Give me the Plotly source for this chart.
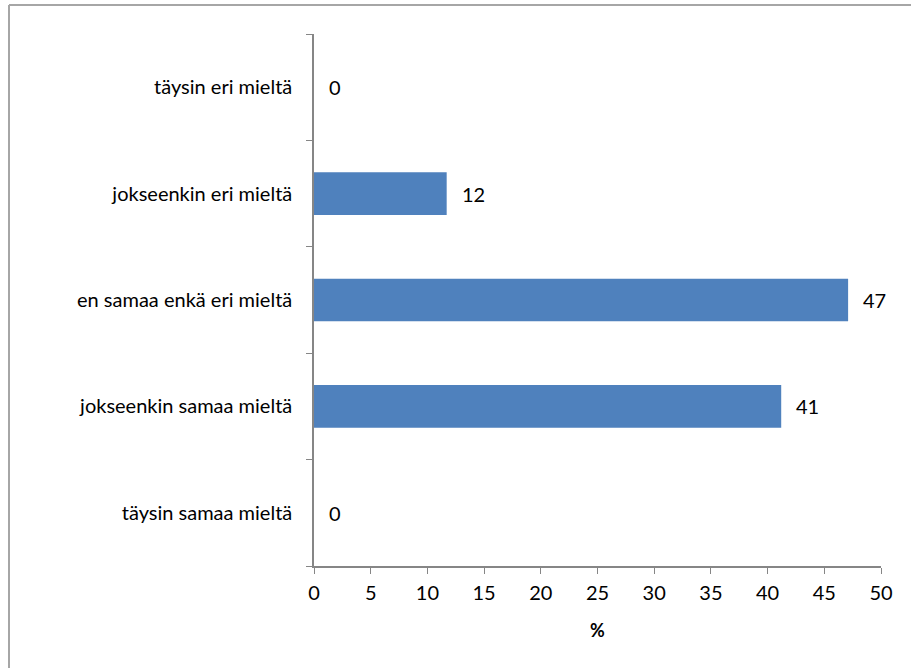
import plotly.graph_objects as go

categories = ["täysin eri mieltä", "jokseenkin eri mieltä", "en samaa enkä eri mieltä",
              "jokseenkin samaa mieltä", "täysin samaa mieltä"]
values = [0, 11.7, 47.1, 41.2, 0]
labels = ["0", "12", "47", "41", "0"]
x_ticks = [0, 5, 10, 15, 20, 25, 30, 35, 40, 45, 50]

W, H = 911, 668
L, R, T, B = 314, 30, 34, 102
pw, ph = W - L - R, H - T - B

font = "Lato, 'Open Sans', sans-serif"
FS = 20
fig = go.Figure(go.Bar(
    y=categories, x=values, orientation="h",
    marker=dict(color="#4F81BD", line=dict(width=0)),
    width=0.4,
))

for c, v, t in zip(categories, values, labels):
    fig.add_annotation(x=v, y=c, text=t, showarrow=False, xanchor="left",
                       xshift=13, font=dict(size=FS, color="#000000", family=font))

def px2paper_x(px):
    return (px - L) / pw

def px2paper_y(py):
    return (H - B - py) / ph

frame_col = "#A6A6A6"
fig.add_shape(type="line", xref="paper", yref="paper",
              x0=px2paper_x(9), x1=px2paper_x(W + 5), y0=px2paper_y(5), y1=px2paper_y(5),
              line=dict(color=frame_col, width=2))
fig.add_shape(type="line", xref="paper", yref="paper",
              x0=px2paper_x(9), x1=px2paper_x(9), y0=px2paper_y(5), y1=px2paper_y(H + 5),
              line=dict(color=frame_col, width=2))

fig.update_layout(
    width=W, height=H,
    margin=dict(l=L, r=R, t=T, b=B, pad=0),
    paper_bgcolor="white", plot_bgcolor="white",
    showlegend=False,
    font=dict(family=font, size=FS, color="#000000"),
    xaxis=dict(
        range=[0, 50], tickvals=x_ticks, ticks="outside", ticklen=6, tickcolor="#868686",
        showline=True, linecolor="#868686", linewidth=1.5, showgrid=False, zeroline=False,
        ticklabelstandoff=2,
        title=dict(text="<b>%</b>", font=dict(size=FS - 2), standoff=22),
    ),
    yaxis=dict(
        categoryorder="array", categoryarray=categories[::-1],
        range=[-0.5, 4.5], tickson="boundaries", ticks="outside", ticklen=6,
        tickcolor="#868686", showline=True, linecolor="#868686", linewidth=1.5,
        showgrid=False, zeroline=False, ticklabelstandoff=16,
    ),
)

fig.write_html("out.html", config={"displayModeBar": False},
               post_script="document.body.style.margin='0';document.body.style.overflow='hidden';")
